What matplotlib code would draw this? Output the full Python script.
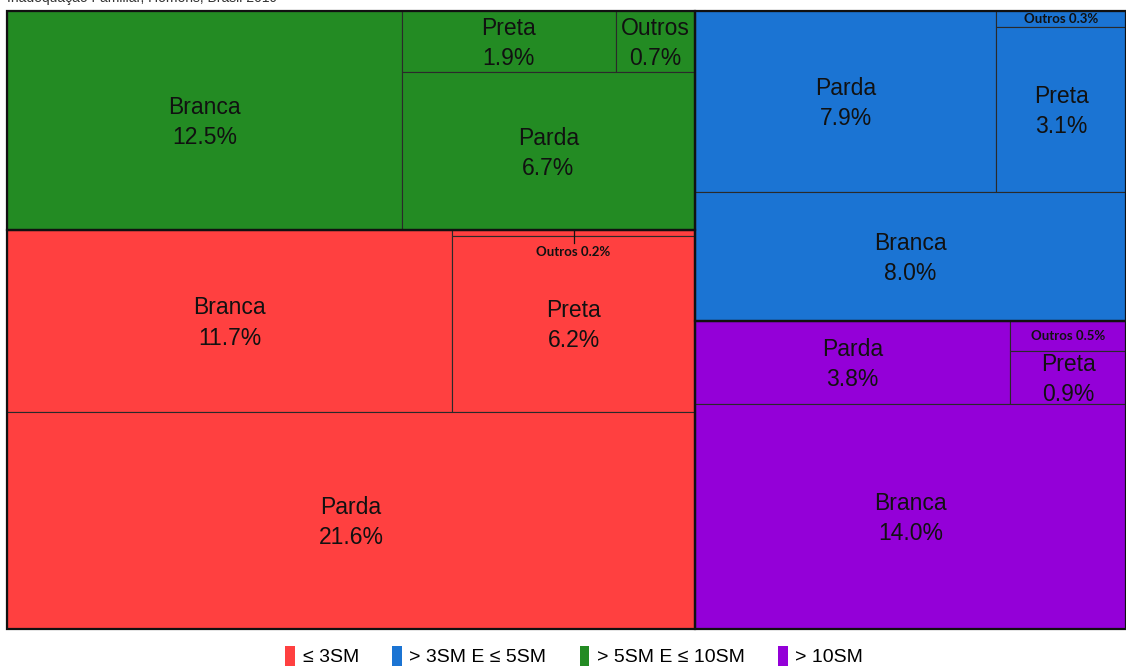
import matplotlib
matplotlib.use("Agg")
import matplotlib.pyplot as plt
from matplotlib.patches import Rectangle

# ---------------- data ----------------
groups = ["≤ 3SM", "> 3SM E ≤ 5SM", "> 5SM E ≤ 10SM", "> 10SM"]
group_colors = ["#FF4040", "#1B74D3", "#238B23", "#9400D8"]

red_labels = ["Branca", "Outros", "Preta", "Parda"]
red_values = [11.7, 0.2, 6.2, 21.6]
blue_labels = ["Parda", "Outros", "Preta", "Branca"]
blue_values = [7.9, 0.3, 3.1, 8.0]
green_labels = ["Branca", "Preta", "Outros", "Parda"]
green_values = [12.5, 1.9, 0.7, 6.7]
purple_labels = ["Parda", "Outros", "Preta", "Branca"]
purple_values = [3.8, 0.5, 0.9, 14.0]

title = "Inadequação Familiar, Homens, Brasil 2019"

# ---------------- layout trees (structure only; sizes come from data) ----------------
# ('h', children) splits left->right; ('v', children) splits top->bottom
# leaves: (group_index, item_index)
red_tree = ('v', [('h', [(0, 0), ('v', [(0, 1), (0, 2)])]), (0, 3)])
blue_tree = ('v', [('h', [(1, 0), ('v', [(1, 1), (1, 2)])]), (1, 3)])
green_tree = ('h', [(2, 0), ('v', [('h', [(2, 1), (2, 2)]), (2, 3)])])
purple_tree = ('v', [('h', [(3, 0), ('v', [(3, 1), (3, 2)])]), (3, 3)])
root = ('h', [('v', [green_tree, red_tree]), ('v', [blue_tree, purple_tree])])

all_labels = [red_labels, blue_labels, green_labels, purple_labels]
all_values = [red_values, blue_values, green_values, purple_values]


def size(node):
    if isinstance(node[0], str):
        return sum(size(c) for c in node[1])
    g, i = node
    return all_values[g][i]


leaf_rects = []
group_rects = {}


def layout(node, x, y, w, h):
    if not isinstance(node[0], str):
        leaf_rects.append((node, x, y, w, h))
        return
    kind, children = node
    total = size(node)
    pos = 0.0
    for c in children:
        frac = size(c) / total
        if kind == 'h':
            layout(c, x + pos * w, y, w * frac, h)
        else:
            layout(c, x, y + pos * h, w, h * frac)
        pos += frac
    for gi, t in enumerate([red_tree, blue_tree, green_tree, purple_tree]):
        if node is t:
            group_rects[gi] = (x, y, w, h)


# ---------------- figure ----------------
W, H = 1126, 668
fig = plt.figure(figsize=(W / 100, H / 100), dpi=100)
ax = fig.add_axes([7 / W, 1 - 629 / H, 1 - 7 / W, (629 - 11) / H])
ax.set_xlim(0, 1)
ax.set_ylim(1, 0)
ax.axis("off")

layout(root, 0, 0, 1, 1)

font = "Liberation Sans"
axw_px = W - 7
axh_px = 629 - 11

for (g, i), x, y, w, h in leaf_rects:
    ax.add_patch(Rectangle((x, y), w, h, facecolor=group_colors[g],
                           edgecolor="#2a2a2a", linewidth=0.8, zorder=1))
    lab = all_labels[g][i]
    val = all_values[g][i]
    cx = x + w / 2
    hp = h * axh_px
    wp = w * axw_px
    if hp >= 45 and wp >= 60:
        ax.text(cx, y + h / 2 + 2 / axh_px, f"{lab}\n{val:.1f}%", ha="center", va="center",
                fontsize=16.5, family=font, color="#111111", linespacing=1.4, zorder=3)
    else:
        txt = f"{lab} {val:.1f}%"
        if hp >= 12:
            ax.text(cx, y + h / 2, txt, ha="center", va="center", fontsize=9.5,
                    family="Lato", fontweight="bold", color="#111111", zorder=3)
        else:
            # label below thin cell with a small leader tick
            ty = y + h + 16 / axh_px
            ax.plot([cx, cx], [y + 1 / axh_px, y + h + 7 / axh_px], color="#111111",
                    linewidth=0.9, zorder=3)
            ax.text(cx, ty, txt, ha="center", va="center", fontsize=9.5,
                    family="Lato", fontweight="bold", color="#111111", zorder=3)

for gi, (x, y, w, h) in group_rects.items():
    ax.add_patch(Rectangle((x, y), w, h, facecolor="none", edgecolor="#111111",
                           linewidth=1.6, zorder=2, clip_on=False))

# partially cut title at top (as in the reference)
fig.text(7 / W, 1 + 2 / H, title, ha="left", va="center", fontsize=10,
         family=font, color="#333333")

# legend
handles = [Rectangle((0, 0), 1, 1, facecolor=c, edgecolor="none") for c in group_colors]
fig.legend(handles, groups, loc="center", bbox_to_anchor=(0.51, 1 - 656 / H), ncol=4,
           frameon=False, handlelength=0.5, handleheight=1.25, handletextpad=0.4,
           columnspacing=1.7, prop={"family": font, "size": 14})

fig.savefig("out.png", dpi=100)
